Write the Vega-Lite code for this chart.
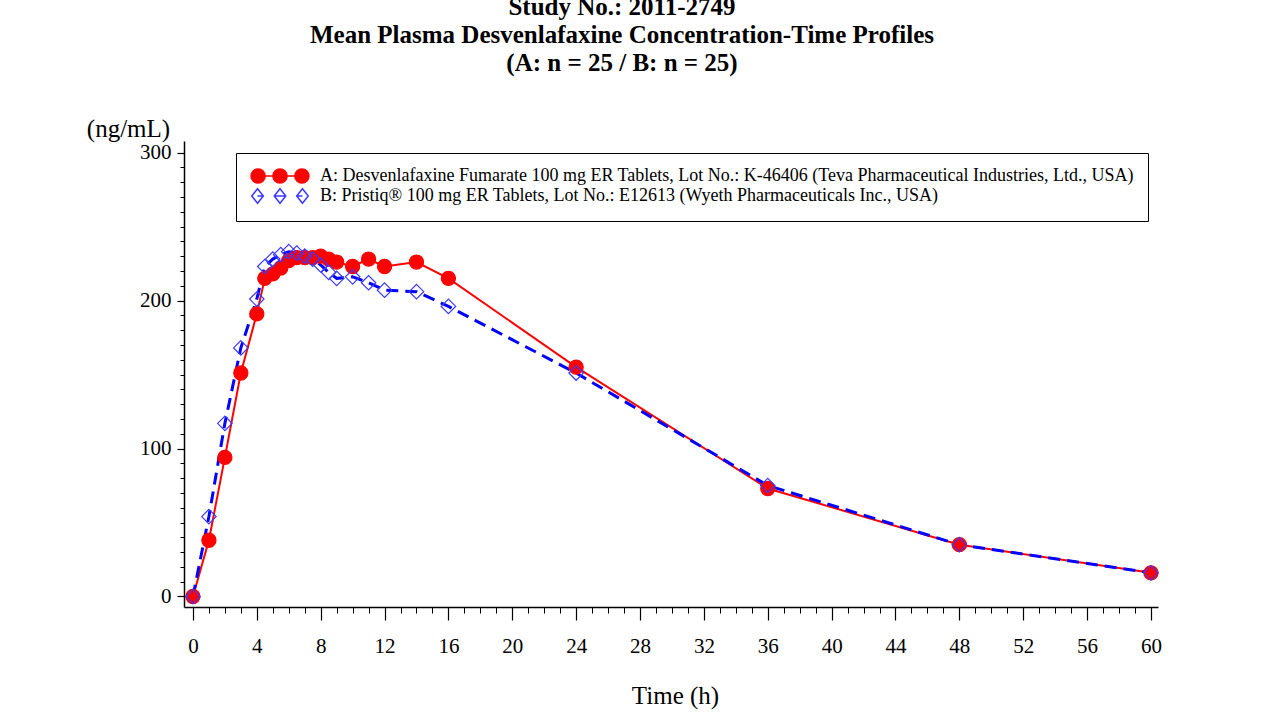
{
  "$schema": "https://vega.github.io/schema/vega-lite/v6.json",
  "width": 974,
  "height": 466,
  "autosize": {"type": "none"},
  "padding": {"left": 184, "top": 141, "right": 125, "bottom": 112},
  "background": "white",
  "config": {
    "view": {"stroke": null},
    "font": "Liberation Serif",
    "legend": {
      "orient": "none", "legendX": 52, "legendY": 12, "direction": "vertical",
      "strokeColor": "black", "fillColor": "white", "padding": 14,
      "symbolOffset": 21, "labelOffset": 31,
      "labelFont": "Liberation Serif", "labelFontSize": 18, "labelColor": "black",
      "labelLimit": 1200, "rowPadding": -4
    }
  },
  "title": {
    "text": ["Study No.: 2011-2749", "Mean Plasma Desvenlafaxine Concentration-Time Profiles", "(A: n = 25 / B: n = 25)"],
    "font": "Liberation Serif",
    "fontSize": 25,
    "fontWeight": "bold",
    "lineHeight": 28,
    "anchor": "middle",
    "frame": "group",
    "dx": -49,
    "offset": 40,
    "color": "black"
  },
  "data": {
    "values": [
      {"t": 0, "s": "A", "c": 0},
      {"t": 1, "s": "A", "c": 38},
      {"t": 2, "s": "A", "c": 94},
      {"t": 3, "s": "A", "c": 151},
      {"t": 4, "s": "A", "c": 191},
      {"t": 4.5, "s": "A", "c": 215},
      {"t": 5, "s": "A", "c": 218},
      {"t": 5.5, "s": "A", "c": 222},
      {"t": 6, "s": "A", "c": 227},
      {"t": 6.5, "s": "A", "c": 229},
      {"t": 7, "s": "A", "c": 229},
      {"t": 7.5, "s": "A", "c": 229},
      {"t": 8, "s": "A", "c": 230},
      {"t": 8.5, "s": "A", "c": 228},
      {"t": 9, "s": "A", "c": 226},
      {"t": 10, "s": "A", "c": 223},
      {"t": 11, "s": "A", "c": 228},
      {"t": 12, "s": "A", "c": 223},
      {"t": 14, "s": "A", "c": 226},
      {"t": 16, "s": "A", "c": 215},
      {"t": 24, "s": "A", "c": 155},
      {"t": 36, "s": "A", "c": 73},
      {"t": 48, "s": "A", "c": 35},
      {"t": 60, "s": "A", "c": 16},
      {"t": 0, "s": "B", "c": 0},
      {"t": 1, "s": "B", "c": 54},
      {"t": 2, "s": "B", "c": 117},
      {"t": 3, "s": "B", "c": 168},
      {"t": 4, "s": "B", "c": 201},
      {"t": 4.5, "s": "B", "c": 223},
      {"t": 5, "s": "B", "c": 228},
      {"t": 5.5, "s": "B", "c": 231},
      {"t": 6, "s": "B", "c": 233},
      {"t": 6.5, "s": "B", "c": 232},
      {"t": 7, "s": "B", "c": 230},
      {"t": 7.5, "s": "B", "c": 228},
      {"t": 8, "s": "B", "c": 224},
      {"t": 8.5, "s": "B", "c": 219},
      {"t": 9, "s": "B", "c": 215},
      {"t": 10, "s": "B", "c": 216},
      {"t": 11, "s": "B", "c": 212},
      {"t": 12, "s": "B", "c": 207},
      {"t": 14, "s": "B", "c": 206},
      {"t": 16, "s": "B", "c": 196},
      {"t": 24, "s": "B", "c": 151},
      {"t": 36, "s": "B", "c": 75},
      {"t": 48, "s": "B", "c": 35},
      {"t": 60, "s": "B", "c": 16}
    ]
  },
  "layer": [
    {
      "transform": [{"filter": "datum.s === 'A'"}],
      "mark": {"type": "line", "color": "#ff0000", "strokeWidth": 2},
      "encoding": {
        "x": {
          "field": "t", "type": "quantitative",
          "scale": {"domain": [-0.56, 60.44], "nice": false, "zero": false},
          "axis": {
            "orient": "bottom",
            "values": [0, 4, 8, 12, 16, 20, 24, 28, 32, 36, 40, 44, 48, 52, 56, 60],
            "tickSize": 13, "tickWidth": 1.2, "tickColor": "black",
            "domainColor": "black", "domainWidth": 1.5,
            "labelFont": "Liberation Serif", "labelFontSize": 21, "labelColor": "black",
            "labelPadding": 15, "labelFlush": false, "labelOverlap": false,
            "grid": false,
            "title": "Time (h)", "titleFont": "Liberation Serif", "titleFontSize": 25,
            "titleFontWeight": "normal", "titleColor": "black",
            "titleX": 491, "titleY": 88, "titleAlign": "center", "titleBaseline": "middle"
          }
        },
        "y": {
          "field": "c", "type": "quantitative",
          "scale": {"domain": [-7.1, 307.8], "nice": false, "zero": false},
          "axis": {
            "orient": "left",
            "values": [0, 100, 200, 300],
            "tickSize": 7, "tickWidth": 1.2, "tickColor": "black",
            "domainColor": "black", "domainWidth": 1.5,
            "labelFont": "Liberation Serif", "labelFontSize": 21, "labelColor": "black",
            "labelPadding": 6, "labelFlush": false, "labelOverlap": false,
            "grid": false,
            "title": "(ng/mL)", "titleFont": "Liberation Serif", "titleFontSize": 25,
            "titleFontWeight": "normal", "titleColor": "black", "titleAngle": 0,
            "titleX": -56, "titleY": -13, "titleAlign": "center", "titleBaseline": "middle"
          }
        }
      }
    },
    {
      "transform": [{"filter": "datum.s === 'B'"}],
      "mark": {"type": "line", "color": "#0000ff", "strokeWidth": 3, "strokeDash": [12, 7]},
      "encoding": {
        "x": {
          "field": "t", "type": "quantitative",
          "axis": {
            "orient": "bottom",
            "values": [0,1,2,3,4,5,6,7,8,9,10,11,12,13,14,15,16,17,18,19,20,21,22,23,24,25,26,27,28,29,30,31,32,33,34,35,36,37,38,39,40,41,42,43,44,45,46,47,48,49,50,51,52,53,54,55,56,57,58,59,60],
            "tickSize": 6, "tickWidth": 1, "tickColor": "black",
            "domain": false, "labels": false, "grid": false, "title": null
          }
        },
        "y": {
          "field": "c", "type": "quantitative",
          "axis": {
            "orient": "left",
            "values": [0,10,20,30,40,50,60,70,80,90,100,110,120,130,140,150,160,170,180,190,200,210,220,230,240,250,260,270,280,290,300],
            "tickSize": 4, "tickWidth": 1, "tickColor": "black",
            "domain": false, "labels": false, "grid": false, "title": null
          }
        }
      }
    },
    {
      "mark": {
        "type": "point",
        "filled": true,
        "opacity": 1,
        "strokeWidth": 1.2,
        "shape": {"expr": "datum.s ? (datum.s === 'A' ? 'circle' : 'diamond') : (datum.value === 'A' ? 'M-4.1,0A1,1 0 1,0 -2.1,0A1,1 0 1,0 -4.1,0Z M-1,0A1,1 0 1,0 1,0A1,1 0 1,0 -1,0Z M2.1,0A1,1 0 1,0 4.1,0A1,1 0 1,0 2.1,0Z M-2.1,0L-1,0 M1,0L2.1,0' : 'M-3.1,-1L-2.3,0L-3.1,1L-3.9,0Z M0,-1L0.8,0L0,1L-0.8,0Z M3.1,-1L3.9,0L3.1,1L2.3,0Z M-3.1,0L-2.3,0 M-0.8,0L0.8,0 M2.3,0L3.1,0')"},
        "fill": {"expr": "(datum.s || datum.value) === 'A' ? '#ff0000' : 'transparent'"},
        "stroke": {"expr": "(datum.s || datum.value) === 'A' ? '#ff0000' : '#3a3aff'"}
      },
      "encoding": {
        "x": {"field": "t", "type": "quantitative", "axis": null},
        "y": {"field": "c", "type": "quantitative", "axis": null},
        "size": {
          "field": "s", "type": "ordinal", "scale": {"domain": ["A", "B"], "range": [200, 210]},
          "legend": {
            "title": null,
            "labelExpr": "datum.value === 'A' ? 'A: Desvenlafaxine Fumarate 100 mg ER Tablets, Lot No.: K-46406 (Teva Pharmaceutical Industries, Ltd., USA)' : 'B: Pristiq® 100 mg ER Tablets, Lot No.: E12613 (Wyeth Pharmaceuticals Inc., USA)'"
          }
        }
      }
    }
  ],
  "resolve": {"axis": {"x": "independent", "y": "independent"}}
}
